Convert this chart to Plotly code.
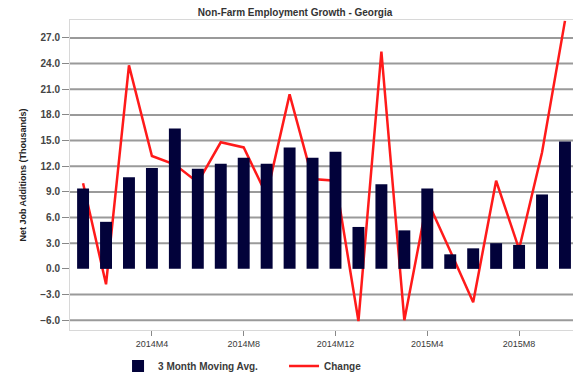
import plotly.graph_objects as go

# Monthly periods, Jan 2014 through Oct 2015
months = [f"2014M{m}" for m in range(1, 13)] + [f"2015M{m}" for m in range(1, 11)]

# Monthly change in non-farm jobs (thousands)
change = [10.0, -1.8, 23.8, 13.2, 12.2, 10.1, 14.8, 14.2, 8.6, 20.4, 10.5,
          10.3, -6.1, 25.4, -6.0, 8.0, 2.1, -3.9, 10.3, 2.3, 13.6, 29.0]

# 3-month moving average (thousands)
moving_avg = [9.4, 5.5, 10.7, 11.8, 16.4, 11.7, 12.3, 13.0, 12.3, 14.2, 13.0,
              13.7, 4.9, 9.9, 4.5, 9.4, 1.7, 2.4, 3.0, 2.8, 8.7, 14.9]

tick_months = ["2014M4", "2014M8", "2014M12", "2015M4", "2015M8"]
y_ticks = [-6, -3, 0, 3, 6, 9, 12, 15, 18, 21, 24, 27]
grid_levels = [v for v in y_ticks if v != 0]

Y_RANGE = [-7.15, 29.1]
X_RANGE = [-0.57, 21.35]
FONT = "Liberation Sans, Arial, sans-serif"
TEXT = "#3a3a3a"

fig = go.Figure()

# Line sits on the base axis so the bars (on the overlay axis) are drawn over it
fig.add_trace(go.Scatter(
    x=months, y=change, name="Change", mode="lines",
    line=dict(color="#ff1a1a", width=2.5),
    yaxis="y", legendrank=2,
))
fig.add_trace(go.Bar(
    x=months, y=moving_avg, name="3 Month Moving Avg.",
    marker=dict(color="#02023a", line=dict(width=0)),
    width=0.52, yaxis="y2", legendrank=1,
))

# Horizontal grid (no line at zero)
shapes = [
    dict(type="line", xref="paper", x0=0, x1=1, yref="y", y0=v, y1=v,
         line=dict(color="#9a9a9a", width=2), layer="below")
    for v in grid_levels
]

fig.update_layout(
    width=573, height=379,
    margin=dict(l=70, r=0, t=20, b=49, autoexpand=False),
    paper_bgcolor="white", plot_bgcolor="white",
    font=dict(family=FONT, color=TEXT, size=10),
    title=dict(text="Non-Farm Employment Growth - Georgia",
               x=0.515, xanchor="center", y=0.968, yanchor="middle",
               font=dict(family=FONT, size=10, color="#333333", weight="bold")),
    shapes=shapes,
    showlegend=True,
    legend=dict(orientation="h", x=0.206, xref="container", xanchor="left",
                yref="container", y=0.034, yanchor="middle",
                entrywidth=121, entrywidthmode="pixels",
                font=dict(family=FONT, size=10, color=TEXT, weight="bold"),
                itemwidth=30, tracegroupgap=0, bgcolor="rgba(0,0,0,0)"),
    bargap=0.5,
    xaxis=dict(
        type="category", range=X_RANGE, automargin=False,
        tickmode="array", tickvals=tick_months, ticktext=tick_months,
        ticks="outside", ticklen=5, tickcolor="#888888", tickwidth=1,
        showgrid=False, showline=True, linecolor="#d8d8d8", linewidth=1,
        mirror=True, zeroline=False,
        tickfont=dict(family=FONT, size=9, color=TEXT),
    ),
    yaxis=dict(
        range=Y_RANGE, tickmode="array", tickvals=y_ticks, automargin=False,
        tickformat=".1f", ticks="outside", ticklen=7, tickcolor="#888888",
        tickwidth=1, showgrid=False, zeroline=False,
        showline=True, linecolor="#d8d8d8", linewidth=1, mirror=True,
        tickfont=dict(family=FONT, size=10, color="#444444", weight="bold"),
        title=dict(text="Net Job Additions (Thousands)", standoff=12,
                   font=dict(family=FONT, size=9, color="#222222", weight="bold")),
    ),
    yaxis2=dict(
        range=Y_RANGE, overlaying="y", side="left", visible=False,
        showgrid=False, zeroline=False,
    ),
)

fig.write_html("out.html")
